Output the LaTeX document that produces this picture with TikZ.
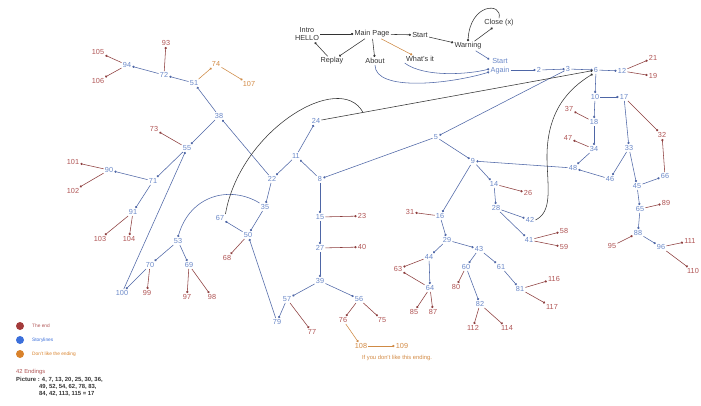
\documentclass[tikz,border=0pt]{standalone}
\usepackage{fontspec}
\setmainfont{Liberation Sans}
\usetikzlibrary{arrows.meta,calc}
\definecolor{bluetxt}{HTML}{6A88C8}
\definecolor{blueln}{HTML}{4E66A6}
\definecolor{redtxt}{HTML}{B05454}
\definecolor{redln}{HTML}{8C3C3C}
\definecolor{ortxt}{HTML}{D38B45}
\definecolor{orln}{HTML}{CF8A45}
\definecolor{blk}{HTML}{333333}
\definecolor{legred}{HTML}{A33B3B}
\definecolor{legblue}{HTML}{3B6FDB}
\definecolor{legor}{HTML}{D9822B}
\begin{document}
\begin{tikzpicture}[x=1pt,y=-1pt,
  lab/.style={font=\fontsize{7.3}{8.8}\selectfont, inner sep=1.2pt, align=center},
  snode/.style={lab,text=bluetxt},
  enode/.style={lab,text=redtxt},
  onode/.style={lab,text=ortxt},
  bnode/.style={lab,text=blk},
  arr/.style={-{Circle[length=2.2pt]}, line width=0.55pt},
  bedge/.style={arr,draw=blueln},
  redge/.style={arr,draw=redln},
  oedge/.style={arr,draw=orln},
  kedge/.style={arr,draw=blk},
  legtxt/.style={font=\fontsize{4.8}{5}\selectfont, anchor=west, inner sep=0pt},
  pictxt/.style={font=\bfseries\fontsize{5.9}{6}\selectfont, text=blk, anchor=west, inner sep=0pt}]
\useasboundingbox (0,0) rectangle (701,405);
\fill[white] (0,0) rectangle (701,405);

% top menu
\node[bnode] (intro) at (307,34) {Intro\\HELLO};
\node[bnode] (main) at (372,34) {Main Page};
\node[bnode] (start) at (420,35) {Start};
\node[bnode] (warning) at (468,46) {Warning};
\node[bnode] (close) at (499,23) {Close (x)};
\node[bnode] (replay) at (332,61) {Replay};
\node[bnode] (about) at (375,61) {About};
\node[bnode] (whats) at (420,59) {What's it};
\node[snode] (again) at (500,66) {Start\\Again};

% storyline nodes
\foreach \n/\x/\y in {2/539/70, 3/568/69, 6/596/70, 12/622/71, 10/595/97, 17/624/97,
  18/594/122, 34/594/149, 33/629/148, 48/573/168, 46/610/179, 45/637/186, 66/665/176,
  65/640/209, 88/638/233, 96/661/247, 5/436/137, 9/473/161, 14/494/184, 28/496/208,
  42/530/220, 41/529/240, 16/440/216, 29/447/240, 44/429/257, 64/430/288, 43/479/249,
  60/466/267, 61/501/267, 81/520/289, 82/480/304, 8/320/179, 11/296/156, 24/316/121,
  22/272/179, 15/320/217, 27/320/248, 39/320/281, 57/287/299, 56/359/299, 79/277/322,
  35/265/207, 50/248/235, 67/220/218, 53/178/241, 70/150/265, 69/189/265, 100/122/293,
  38/219/116, 51/194/83, 72/164/75, 94/127/65, 55/187/148, 71/153/181, 90/109/170, 91/133/212}
  \node[snode] (n\n) at (\x,\y) {\n};

% ending nodes
\foreach \n/\x/\y in {21/653/58, 19/653/76, 37/569/109, 47/568/138, 32/662/135, 89/666/203,
  95/612/246, 111/690/241, 110/693/271, 26/528/193, 58/564/231, 59/564/247, 31/410/212,
  63/398/269, 85/414/312, 87/433/312, 80/456/287, 112/473/328, 114/507/328, 116/554/279,
  117/552/307, 23/362/216, 40/362/247, 77/312/332, 76/343/320, 75/382/320, 68/227/258,
  99/147/293, 97/187/297, 98/212/297, 103/100/239, 104/129/239, 101/73/162, 102/73/191,
  73/154/129, 93/166/43, 105/98/52, 106/98/81}
  \node[enode] (n\n) at (\x,\y) {\n};

% orange nodes
\foreach \n/\x/\y in {74/216/64, 107/249/84, 108/361/346, 109/402/346}
  \node[onode] (n\n) at (\x,\y) {\n};

% top edges
\draw[kedge] (intro) -- (main);
\draw[kedge] (main) -- (replay);
\draw[kedge] (replay) -- (intro);
\draw[kedge] (main) -- (start);
\draw[kedge] (main) -- (about);
\draw[oedge] (main) -- (whats);
\draw[kedge] (start) -- (warning);
\draw[kedge] (warning) -- (close);
\draw[kedge] (close.north) .. controls (503,2) and (470,3) .. (warning.north);
\draw[bedge] (warning) -- (again);
\draw[bedge] (whats.south west) .. controls (425,78) and (470,74) .. ([yshift=-3pt]again.west);
\draw[bedge] (about.south) .. controls (375,92) and (450,84) .. ([yshift=-6pt]again.west);
\draw[bedge] (again.east |- n2) -- (n2);

% storyline edges
\foreach \a/\b in {2/3, 3/6, 6/12, 6/10, 10/17, 10/18, 18/34, 34/48, 17/33, 33/46, 33/45,
  45/66, 46/48, 48/9, 45/65, 65/88, 88/96, 3/5, 5/9, 5/8, 9/14, 9/16, 14/28, 28/42, 28/41,
  16/29, 29/44, 29/43, 44/64, 43/60, 43/61, 60/82, 61/81, 8/11, 11/24, 11/22, 8/15, 15/27,
  27/39, 39/57, 39/56, 57/79, 79/50, 22/35, 35/50, 50/67, 53/70, 53/69, 70/100, 100/55,
  22/38, 38/51, 38/55, 51/72, 72/94, 55/71, 71/90, 71/91}
  \draw[bedge] (n\a) -- (n\b);
\draw[bedge] (n35.north west) .. controls (230,185) and (190,195) .. (n53.north);

% ending edges
\foreach \a/\b in {12/21, 12/19, 18/37, 34/47, 17/32, 66/32, 65/89, 95/88, 96/111, 96/110,
  14/26, 41/58, 41/59, 16/31, 44/63, 64/63, 64/85, 64/87, 60/80, 82/112, 82/114, 81/116,
  81/117, 15/23, 27/40, 57/77, 56/76, 56/75, 50/68, 70/99, 69/97, 69/98, 91/103, 91/104,
  90/101, 90/102, 55/73, 72/93, 94/105, 94/106}
  \draw[redge] (n\a) -- (n\b);

% orange edges
\foreach \a/\b in {76/108, 108/109, 51/74, 74/107}
  \draw[oedge] (n\a) -- (n\b);

% black loops
\draw[kedge] (n24) -- (n6);
\coordinate (j) at ($(n24)!0.168!(n6)$);
\draw[blk, line width=0.55pt] (n67.north east) .. controls (240,130) and (340,70) .. (j);
\draw[kedge] (n42.east) .. controls (552,212) and (548,190) .. (547,160)
  .. controls (546,110) and (570,88) .. (n6.south west);

% orange note
\node[font=\fontsize{5.8}{6}\selectfont, text=ortxt, inner sep=0pt] (note) at (397,358) {If you don't like this ending.};

% legend
\fill[legred] (20,326) circle (4pt);
\fill[legblue] (20,340) circle (4pt);
\fill[legor] (20,354) circle (4pt);
\node[legtxt, text=redtxt] (l1) at (32,326) {The end};
\node[legtxt, text=legblue] (l2) at (32,340) {Storylines};
\node[legtxt, text=legor] (l3) at (32,354) {Don't like the ending};
\node[font=\fontsize{5.8}{6}\selectfont, text=redtxt, anchor=west, inner sep=0pt] (e1) at (16,372) {42 Endings};
\node[pictxt] (p1) at (16,380) {Picture : 4, 7, 13, 20, 25, 30, 36,};
\node[pictxt] (p2) at (39,387) {49, 52, 54, 62, 78, 83,};
\node[pictxt] (p3) at (39,394) {84, 42, 113, 115 = 17};
\end{tikzpicture}
\end{document}
